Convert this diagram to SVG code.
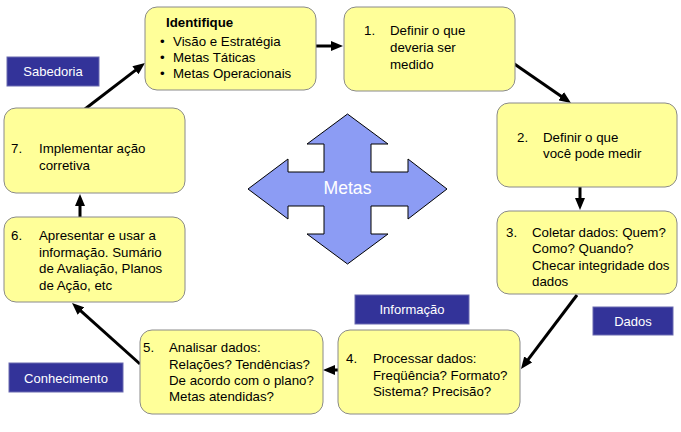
<svg xmlns="http://www.w3.org/2000/svg" width="681" height="432" viewBox="0 0 681 432">
<style>
.box{fill:#FFFF99;stroke:#8a8a8a;stroke-width:1}
.t{font-family:"Liberation Sans",Arial,sans-serif;font-size:13.3px;fill:#000}
.b{font-weight:bold}
.lab{fill:#333399;stroke:#6a6ab0;stroke-width:1}
.lt{font-family:"Liberation Sans",Arial,sans-serif;font-size:13px;fill:#fff;text-anchor:middle}
.con{stroke:#000;stroke-width:3;fill:none;marker-end:url(#ah)}
</style>
<defs>
<marker id="ah" viewBox="0 0 12 10" refX="4" refY="5" markerWidth="12" markerHeight="10" markerUnits="userSpaceOnUse" orient="auto">
<path d="M0,0 L12,5 L0,10 z" fill="#000"/>
</marker>
</defs>
<rect width="681" height="432" fill="#fff"/>
<g id="metas">
<polygon points="347.5,114 388,144 371,144 371,172 408,172 408,159 447,189 408,219 408,206 371,206 371,234 388,234 347.5,264 307,234 324,234 324,206 288,206 288,219 248,189 288,159 288,172 324,172 324,144 307,144" fill="#8C9CF4" stroke="#000" stroke-width="1"/>
<text x="347.5" y="194" font-family="Liberation Sans,Arial,sans-serif" font-size="17.6px" fill="#fff" text-anchor="middle">Metas</text>
</g>
<g id="connectors">
<line class="con" x1="316" y1="46" x2="335" y2="46"/>
<line class="con" x1="513" y1="63" x2="564.4" y2="98.5"/>
<line class="con" x1="580" y1="187" x2="580" y2="202"/>
<line class="con" x1="577" y1="295" x2="525.8" y2="362.6"/>
<line class="con" x1="338" y1="370" x2="331" y2="370"/>
<line class="con" x1="140" y1="364" x2="78" y2="308.3"/>
<line class="con" x1="80" y1="217" x2="80" y2="202"/>
<line class="con" x1="85" y1="109" x2="138.6" y2="67.9"/>
</g>
<g id="identifique">
<rect class="box" x="145" y="7" width="171" height="83" rx="12"/>
<text class="t b" x="166" y="27">Identifique</text>
<text class="t" x="160" y="46">•</text><text class="t" x="173" y="46">Visão e Estratégia</text>
<text class="t" x="160" y="62">•</text><text class="t" x="173" y="62">Metas Táticas</text>
<text class="t" x="160" y="78">•</text><text class="t" x="173" y="78">Metas Operacionais</text>
</g>
<g id="n1">
<rect class="box" x="344" y="7" width="171" height="84" rx="12"/>
<text class="t" x="364" y="35">1.</text>
<text class="t" x="390" y="35">Definir o que</text>
<text class="t" x="390" y="52">deveria ser</text>
<text class="t" x="390" y="69">medido</text>
</g>
<g id="n2">
<rect class="box" x="497" y="103" width="180" height="84" rx="12"/>
<text class="t" x="517" y="142">2.</text>
<text class="t" x="543" y="142">Definir o que</text>
<text class="t" x="543" y="158">você pode medir</text>
</g>
<g id="n3">
<rect class="box" x="497" y="211" width="180" height="83" rx="12"/>
<text class="t" x="506" y="237">3.</text>
<text class="t" x="532" y="237">Coletar dados: Quem?</text>
<text class="t" x="532" y="253">Como? Quando?</text>
<text class="t" x="532" y="270">Checar integridade dos</text>
<text class="t" x="532" y="286">dados</text>
</g>
<g id="n4">
<rect class="box" x="338" y="330" width="182" height="84" rx="12"/>
<text class="t" x="346" y="363">4.</text>
<text class="t" x="373" y="363">Processar dados:</text>
<text class="t" x="373" y="380">Freqüência? Formato?</text>
<text class="t" x="373" y="396">Sistema? Precisão?</text>
</g>
<g id="n5">
<rect class="box" x="140" y="330" width="183" height="84" rx="12"/>
<text class="t" x="143" y="352">5.</text>
<text class="t" x="169" y="352">Analisar dados:</text>
<text class="t" x="169" y="369">Relações? Tendências?</text>
<text class="t" x="169" y="385">De acordo com o plano?</text>
<text class="t" x="169" y="401">Metas atendidas?</text>
</g>
<g id="n6">
<rect class="box" x="4" y="217" width="181" height="85" rx="12"/>
<text class="t" x="11" y="240">6.</text>
<text class="t" x="39" y="240">Apresentar e usar a</text>
<text class="t" x="39" y="257">informação. Sumário</text>
<text class="t" x="39" y="273">de Avaliação, Planos</text>
<text class="t" x="39" y="290">de Ação, etc</text>
</g>
<g id="n7">
<rect class="box" x="4" y="108" width="181" height="85" rx="12"/>
<text class="t" x="11" y="153">7.</text>
<text class="t" x="39" y="153">Implementar ação</text>
<text class="t" x="39" y="170">corretiva</text>
</g>
<g id="sabedoria">
<rect class="lab" x="7" y="57" width="92" height="29"/>
<text class="lt" x="53" y="76">Sabedoria</text>
</g>
<g id="informacao">
<rect class="lab" x="355" y="295" width="114" height="29"/>
<text class="lt" x="412" y="314">Informação</text>
</g>
<g id="dados">
<rect class="lab" x="593" y="307" width="80" height="28"/>
<text class="lt" x="633" y="326">Dados</text>
</g>
<g id="conhecimento">
<rect class="lab" x="9" y="363" width="114" height="29"/>
<text class="lt" x="66" y="383">Conhecimento</text>
</g>
</svg>
